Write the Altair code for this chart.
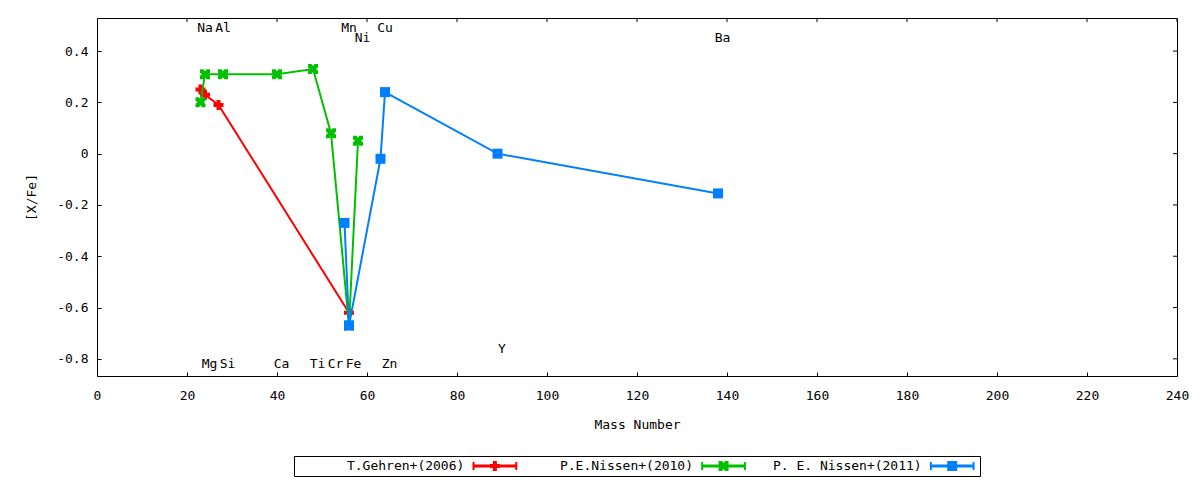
import altair as alt
import pandas as pd

FONT = "DejaVu Sans Mono"
FS = 13

# ---- data ----
series_names = ["T.Gehren+(2006)", "P.E.Nissen+(2010)", "P. E. Nissen+(2011)"]
series_colors = ["#ff0000", "#00c000", "#0080ff"]

g06_mass = [23, 24, 27, 56]
g06_val = [0.25, 0.23, 0.19, -0.62]

n10_mass = [23, 24, 28, 40, 48, 52, 56, 58]
n10_val = [0.20, 0.31, 0.31, 0.31, 0.33, 0.08, -0.67, 0.05]

n11_mass = [55, 56, 63, 64, 89, 138]
n11_val = [-0.27, -0.67, -0.02, 0.24, 0.00, -0.155]

elem_names = ["Na", "Mg", "Al", "Si", "Ca", "Ti", "Cr", "Mn", "Fe", "Ni", "Cu", "Zn", "Y", "Ba"]
elem_mass = [23, 24, 27, 28, 40, 48, 52, 55, 56, 58, 63, 64, 89, 138]
elem_label_y = [0.49, -0.82, 0.49, -0.82, -0.82, -0.82, -0.82, 0.49, -0.82, 0.45, 0.49, -0.82, -0.76, 0.45]

x_ticks = list(range(0, 241, 20))
y_ticks = [-0.8, -0.6, -0.4, -0.2, 0.0, 0.2, 0.4]

X_MIN, X_MAX = 0, 240
Y_MIN, Y_MAX = -0.867, 0.529

# ---- styling ----
X_SHAPE = ("M-1,-1L-0.3,-1L0,-0.6L0.3,-1L1,-1L1,-0.3L0.6,0L1,0.3L1,1L0.3,1"
           "L0,0.6L-0.3,1L-1,1L-1,0.3L-0.6,0L-1,-0.3Z")
shapes = ["cross", X_SHAPE, "square"]

xs = alt.Scale(domain=[X_MIN, X_MAX], nice=False, zero=False)
ys = alt.Scale(domain=[Y_MIN, Y_MAX], nice=False, zero=False)

main_x_axis = alt.Axis(values=x_ticks, tickSize=4, offset=-4, domain=False, grid=False,
                       labelFont=FONT, labelFontSize=FS, labelPadding=13, labelColor="black",
                       labelFlush=False, labelOverlap=False,
                       tickColor="black", title="Mass Number", titleFont=FONT,
                       titleFontSize=FS, titleFontWeight="normal", titlePadding=16,
                       titleColor="black")
main_y_axis = alt.Axis(values=y_ticks, tickSize=4, offset=-4, domain=False, grid=False,
                       labelFont=FONT, labelFontSize=FS, labelPadding=9, labelColor="black",
                       labelFlush=False, labelOverlap=False,
                       tickColor="black", title="[X/Fe]", titleFont=FONT, titleFontSize=FS,
                       titleFontWeight="normal", titlePadding=18, titleColor="black",
                       labelExpr="datum.value == 0 ? '0' : (datum.value < 0 ? '-' : '') + format(abs(datum.value), '.1f')")


def enc_x(first=False):
    if first:
        return alt.X("mass:Q", scale=xs, axis=main_x_axis)
    return alt.X("mass:Q", scale=xs)


def enc_y(first=False):
    if first:
        return alt.Y("val:Q", scale=ys, axis=main_y_axis)
    return alt.Y("val:Q", scale=ys)


series_data = [(g06_mass, g06_val), (n10_mass, n10_val), (n11_mass, n11_val)]

layers = []
for i, (m, v) in enumerate(series_data):
    df = pd.DataFrame({"mass": m, "val": v})
    base = alt.Chart(df).encode(x=enc_x(i == 0), y=enc_y(i == 0))
    layers.append(base.mark_line(color=series_colors[i], strokeWidth=2, clip=True))
    layers.append(base.mark_point(shape=shapes[i], filled=True, opacity=1,
                                  color=series_colors[i], size=100, clip=True))

elem_df = pd.DataFrame({"name": elem_names, "mass": elem_mass, "val": elem_label_y})
labels = alt.Chart(elem_df).mark_text(font=FONT, fontSize=FS, color="black",
                                      align="center", baseline="middle", dx=4.5).encode(
    x=enc_x(), y=enc_y(), text="name:N",
)
layers.append(labels)

# mirrored inward ticks on the top and right borders (gnuplot style)
top_df = pd.DataFrame({"mass": x_ticks, "val": [Y_MAX] * len(x_ticks)})
right_df = pd.DataFrame({"mass": [X_MAX] * len(y_ticks), "val": y_ticks})
top_ticks = alt.Chart(top_df).mark_tick(orient="vertical", size=8, thickness=1,
                                        color="black", clip=True, opacity=1).encode(
    x=enc_x(), y=enc_y())
right_ticks = alt.Chart(right_df).mark_tick(orient="horizontal", size=8, thickness=1,
                                            color="black", clip=True, opacity=1).encode(
    x=enc_x(), y=enc_y())
layers.append(top_ticks)
layers.append(right_ticks)

main = alt.layer(*layers).properties(width=1080, height=358)

# ---- legend panel (gnuplot style: label, then line sample with caps and marker) ----
leg = pd.DataFrame({"name": series_names, "idx": [0, 1, 2]})
leg["tx"] = leg["idx"] + 0.745
leg["s0"] = leg["idx"] + 0.785
leg["s1"] = leg["idx"] + 0.972
leg["sm"] = (leg["s0"] + leg["s1"]) / 2
leg["yc"] = 0.0
leg["ylo"] = -0.4
leg["yhi"] = 0.4

lxs = alt.Scale(domain=[0, 3], nice=False, zero=False)
lys = alt.Scale(domain=[-1, 1], nice=False, zero=False)
lcol = alt.Color("name:N", scale=alt.Scale(domain=series_names, range=series_colors), legend=None)
lshape = alt.Shape("name:N", scale=alt.Scale(domain=series_names, range=shapes), legend=None)

lbase = alt.Chart(leg)
leg_text = lbase.mark_text(font=FONT, fontSize=FS, color="black", align="right",
                           baseline="middle").encode(
    x=alt.X("tx:Q", scale=lxs, axis=None), y=alt.Y("yc:Q", scale=lys, axis=None), text="name:N")
leg_line = lbase.mark_rule(strokeWidth=3).encode(
    x=alt.X("s0:Q", scale=lxs, axis=None), x2="s1:Q",
    y=alt.Y("yc:Q", scale=lys, axis=None), color=lcol)
leg_cap0 = lbase.mark_rule(strokeWidth=2).encode(
    x=alt.X("s0:Q", scale=lxs, axis=None), y=alt.Y("ylo:Q", scale=lys, axis=None), y2="yhi:Q",
    color=lcol)
leg_cap1 = lbase.mark_rule(strokeWidth=2).encode(
    x=alt.X("s1:Q", scale=lxs, axis=None), y=alt.Y("ylo:Q", scale=lys, axis=None), y2="yhi:Q",
    color=lcol)
leg_pt = lbase.mark_point(filled=True, opacity=1, size=100).encode(
    x=alt.X("sm:Q", scale=lxs, axis=None), y=alt.Y("yc:Q", scale=lys, axis=None),
    color=lcol, shape=lshape)

legend = alt.layer(leg_text, leg_line, leg_cap0, leg_cap1, leg_pt).properties(width=686, height=20)

chart = alt.vconcat(main, legend, spacing=80, bounds="flush", center=True).properties(
    padding={"left": 17, "top": 9, "right": 0, "bottom": 3},
    background="white",
).configure_view(stroke="black", strokeWidth=1)

chart.save("out.html", embed_options={"renderer": "svg", "actions": False})
